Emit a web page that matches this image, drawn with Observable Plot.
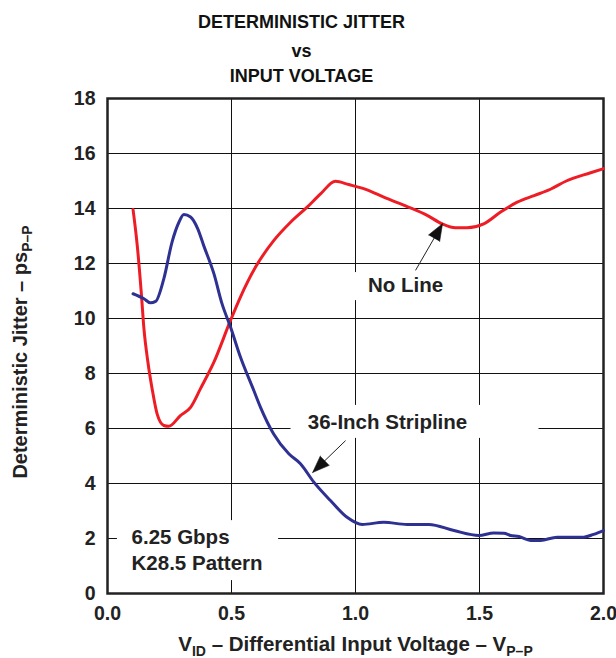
<!DOCTYPE html>
<html>
<head>
<meta charset="utf-8">
<script src="https://cdn.jsdelivr.net/npm/d3@7"></script>
<script src="https://cdn.jsdelivr.net/npm/@observablehq/plot@0.6"></script>
<style>
  html, body { margin: 0; padding: 0; background: #fff; }
  #chart svg { display: block; font-family: "Liberation Sans", Arial, Helvetica, sans-serif; }
</style>
</head>
<body>
<div id="chart"></div>
<script>
// ---- Data ----
const noLineX = [0.103, 0.12, 0.136, 0.147, 0.163, 0.18, 0.2, 0.227, 0.247, 0.294, 0.335, 0.375, 0.429, 0.496, 0.536, 0.597, 0.671, 0.738, 0.805, 0.859, 0.919, 0.973, 1.047, 1.114, 1.208, 1.289, 1.35, 1.403, 1.45, 1.517, 1.585, 1.652, 1.72, 1.786, 1.85, 1.948, 2.0];
const noLineY = [13.96, 12.65, 10.96, 9.62, 8.41, 7.44, 6.53, 6.11, 6.08, 6.47, 6.77, 7.45, 8.41, 9.93, 10.78, 11.87, 12.84, 13.5, 14.05, 14.53, 14.99, 14.87, 14.68, 14.41, 14.07, 13.75, 13.44, 13.3, 13.3, 13.44, 13.87, 14.23, 14.47, 14.7, 15.0, 15.3, 15.45];

const striplineX = [0.103, 0.147, 0.173, 0.194, 0.227, 0.26, 0.288, 0.308, 0.335, 0.364, 0.388, 0.429, 0.462, 0.496, 0.536, 0.59, 0.617, 0.67, 0.731, 0.778, 0.832, 0.899, 0.966, 1.027, 1.114, 1.208, 1.296, 1.397, 1.497, 1.558, 1.598, 1.625, 1.659, 1.706, 1.746, 1.813, 1.92, 1.96, 2.0];
const striplineY = [10.9, 10.72, 10.57, 10.62, 11.44, 12.77, 13.5, 13.78, 13.69, 13.26, 12.65, 11.63, 10.53, 9.69, 8.6, 7.38, 6.77, 5.8, 5.08, 4.72, 4.05, 3.38, 2.77, 2.51, 2.59, 2.51, 2.51, 2.29, 2.11, 2.2, 2.19, 2.11, 2.07, 1.93, 1.93, 2.05, 2.05, 2.15, 2.29];

const xTicks = [0.0, 0.5, 1.0, 1.5, 2.0];
const yTicks = [0, 2, 4, 6, 8, 10, 12, 14, 16, 18];

const titleLines = ["DETERMINISTIC JITTER", "vs", "INPUT VOLTAGE"];

// annotation labels
const labelText = ["No Line", "36-Inch Stripline", "6.25 Gbps", "K28.5 Pattern"];
const labelX = [1.202, 1.129, 0.097, 0.097];
const labelY = [11.2, 6.22, 2.04, 1.09];
const labelAnchor = ["middle", "middle", "start", "start"];

// white label backgrounds (data units)
const boxX1 = [0.98, 0.74, 0.04];
const boxX2 = [1.42, 1.74, 0.69];
const boxY1 = [10.65, 5.64, 0.47];
const boxY2 = [11.67, 6.84, 2.65];

// arrows: tail -> tip
const arrowX1 = [1.242, 0.96];
const arrowY1 = [11.75, 5.56];
const arrowX2 = [1.351, 0.827];
const arrowY2 = [13.45, 4.4];

// ---- Build ----
const W = 616, H = 658;
const mL = 107, mR = 13, mT = 98, mB = 65;
const sx = (W - mL - mR) / 2, sy = (H - mT - mB) / 18;

const noLine = noLineX.map((x, i) => ({x, y: noLineY[i]}));
const stripline = striplineX.map((x, i) => ({x, y: striplineY[i]}));
const labels = labelText.map((t, i) => ({t, x: labelX[i], y: labelY[i], a: labelAnchor[i]}));
const boxes = boxX1.map((x1, i) => ({x1, x2: boxX2[i], y1: boxY1[i], y2: boxY2[i]}));
const arrows = arrowX1.map((x1, i) => {
  const y1 = arrowY1[i], x2 = arrowX2[i], y2 = arrowY2[i];
  const ang = Math.atan2((x2 - x1) * sx, (y2 - y1) * sy) * 180 / Math.PI;
  return {x1, y1, x2, y2, ang};
});

const font = "Liberation Sans, Arial, Helvetica, sans-serif";

const plot = Plot.plot({
  width: W, height: H,
  marginLeft: mL, marginRight: mR, marginTop: mT, marginBottom: mB,
  x: {domain: [0, 2]},
  y: {domain: [0, 18]},
  style: {fontFamily: font, background: "#fff", overflow: "visible"},
  marks: [
    Plot.gridX(xTicks, {stroke: "#111", strokeOpacity: 1, strokeWidth: 1}),
    Plot.gridY(yTicks, {stroke: "#111", strokeOpacity: 1, strokeWidth: 1}),
    Plot.rect(boxes, {x1: "x1", x2: "x2", y1: "y1", y2: "y2", fill: "white"}),
    Plot.frame({stroke: "#222", strokeWidth: 2.5}),
    Plot.axisX(xTicks, {tickSize: 0, tickPadding: 13, fontSize: 19.5, fontWeight: "bold", fill: "#222", tickFormat: d3.format(".1f"), label: null}),
    Plot.axisY(yTicks, {tickSize: 0, tickPadding: 12, fontSize: 19.5, fontWeight: "bold", fill: "#222", label: null}),
    Plot.line(noLine, {x: "x", y: "y", stroke: "#ee1d25", strokeWidth: 3, curve: "monotone-x"}),
    Plot.line(stripline, {x: "x", y: "y", stroke: "#2e3192", strokeWidth: 3, curve: "monotone-x"}),
    Plot.link(arrows, {x1: "x1", y1: "y1", x2: "x2", y2: "y2", stroke: "#222", strokeWidth: 1}),
    Plot.vector(arrows, {x: "x2", y: "y2", rotate: "ang", length: 17, r: 6.5, shape: "spike", anchor: "end", fill: "#111", stroke: "#111", strokeWidth: 0.5}),
    Plot.text(labels, {x: "x", y: "y", text: "t", textAnchor: "start", fontSize: 20.5, fontWeight: "bold", fill: "#222", filter: d => d.a === "start"}),
    Plot.text(labels, {x: "x", y: "y", text: "t", textAnchor: "middle", fontSize: 20.5, fontWeight: "bold", fill: "#222", filter: d => d.a === "middle"}),
    Plot.text(titleLines, {text: d => d, frameAnchor: "top", fontSize: 18, fontWeight: "bold", fill: "#111", className: "ttl"}),
    Plot.text(["xlabel"], {text: d => d, frameAnchor: "bottom", textAnchor: "middle", dy: 57, fontSize: 20.5, fontWeight: "bold", fill: "#222", className: "xlab"}),
    Plot.text(["ylabel"], {text: d => d, frameAnchor: "left", textAnchor: "middle", dx: -87, dy: 6, rotate: -90, fontSize: 20, fontWeight: "bold", fill: "#222", className: "ylab"})
  ]
});

document.getElementById("chart").appendChild(plot);

// Position title lines
const svg = d3.select(plot);
const titleYs = [21, 50, 75];
svg.selectAll("g.ttl text").each(function(d, i) {
  const t = d3.select(this);
  t.attr("transform", null).attr("x", 301).attr("y", titleYs[i]).attr("dy", "0.35em").attr("text-anchor", "middle");
});

// Axis labels with subscripts
function sub(sel, parts) {
  sel.text(null);
  parts.forEach(([txt, isSub], k) => {
    sel.append("tspan")
      .attr("font-size", isSub ? 14 : null)
      .attr("dy", isSub ? 5 : (k > 0 ? -5 : null))
      .text(txt);
  });
}
svg.selectAll("g.xlab text").each(function() {
  sub(d3.select(this), [["V", false], ["ID", true], [" – Differential Input Voltage – V", false], ["P–P", true]]);
});
svg.selectAll("g.ylab text").each(function() {
  sub(d3.select(this), [["Deterministic Jitter – ps", false], ["P–P", true]]);
});
</script>
</body>
</html>
